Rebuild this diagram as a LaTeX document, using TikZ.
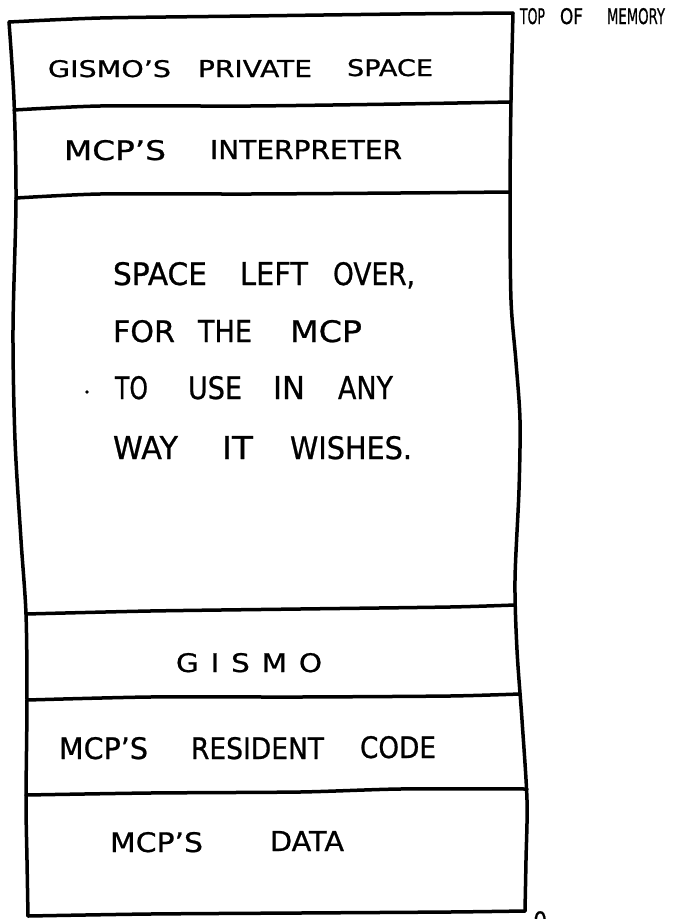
\documentclass[tikz,border=0pt]{standalone}
\usepackage{fontspec}
\usepackage{graphicx}
\setmainfont{DejaVu Sans}[FakeBold=0.8]
\newfontfamily\spacedfont{DejaVu Sans}[LetterSpace=40, FakeBold=0.8]

% one hand-lettered word: name, left x, width, baseline y, cap height, text
\newcommand\hword[6]{\node[word] (#1) at (#2,#4) {\resizebox{#3pt}{#5pt}{#6}};}

\tikzset{
  word/.style={anchor=base west, inner sep=0pt, outer sep=0pt},
  pen/.style={line width=3.5pt, line cap=round, line join=round, black},
}

\begin{document}
\begin{tikzpicture}[x=1pt, y=-1pt]
\useasboundingbox (0,0) rectangle (674,919);
\fill[white] (0,0) rectangle (674,919);

% outer frame of the memory map
\draw[pen] plot[smooth, tension=0.5] coordinates {
  (28,916) (27,860) (26,800) (27,700) (26,614) (21,540) (15,440) (13,330) (16,200) (14,100) (9,22)};
\draw[pen] plot[smooth, tension=0.4] coordinates {
  (9,22) (100,18) (250,16) (400,14) (513,13)};
\draw[pen] plot[smooth, tension=0.5] coordinates {
  (513,13) (511,100) (510,200) (511,300) (516,362) (520,420) (519,490) (515,580) (517,650) (522,720) (527,800) (526,860) (525,911)};
\draw[pen] plot[smooth, tension=0.4] coordinates {
  (525,911) (450,912) (300,913) (150,914) (28,916)};

% partitions
\draw[pen] plot[smooth, tension=0.4] coordinates {(14,110) (100,106) (250,106) (400,104) (511,102)};
\draw[pen] plot[smooth, tension=0.4] coordinates {(16,198) (100,194) (250,194) (400,193) (510,192)};
\draw[pen] plot[smooth, tension=0.4] coordinates {(26,614) (150,611) (300,609) (450,607) (515,605)};
\draw[pen] plot[smooth, tension=0.4] coordinates {(27,700) (150,697) (300,697) (450,696) (520,694)};
\draw[pen] plot[smooth, tension=0.4] coordinates {(26,795) (150,793) (300,792) (400,789) (527,789)};

% GISMO'S PRIVATE SPACE
\hword{a1}{48}{123}{77}{17}{GISMO'S}
\hword{a2}{198}{114}{77}{17}{PRIVATE}
\hword{a3}{347}{86}{76}{17}{SPACE}

% MCP'S INTERPRETER
\hword{b1}{64}{102}{160}{20}{MCP'S}
\hword{b2}{210}{192}{159}{19}{INTERPRETER}

% free space paragraph
\hword{c1}{113}{94}{285}{23}{SPACE}
\hword{c2}{240}{68}{285}{23}{LEFT}
\hword{c3}{333}{82}{285}{23}{OVER,}
\hword{d1}{113}{62}{342}{22}{FOR}
\hword{d2}{198}{54}{342}{22}{THE}
\hword{d3}{290}{72}{342}{22}{MCP}
\hword{e1}{115}{33}{399}{23}{TO}
\hword{e2}{188}{54}{399}{23}{USE}
\hword{e3}{273}{32}{399}{23}{IN}
\hword{e4}{338}{55}{399}{23}{ANY}
\hword{f1}{113}{65}{459}{23}{WAY}
\hword{f2}{222}{31}{459}{23}{IT}
\hword{f3}{290}{122}{459}{23}{WISHES.}
\fill (87,392) circle (1.8);

% GISMO
\hword{g1}{176}{146}{672}{19}{\spacedfont GISMO}

% MCP'S RESIDENT CODE
\hword{h1}{59}{89}{759}{22}{MCP'S}
\hword{h2}{191}{133}{759}{22}{RESIDENT}
\hword{h3}{360}{76}{758}{22}{CODE}

% MCP'S DATA
\hword{k1}{110}{93}{852}{20}{MCP'S}
\hword{k2}{270}{74}{851}{20}{DATA}

% address labels
\hword{t1}{520}{25}{24}{16}{TOP}
\hword{t2}{560}{23}{24}{16}{OF}
\hword{t3}{607}{58}{24}{16}{MEMORY}
\node[anchor=north west, inner sep=0pt] (zero) at (533,911) {\resizebox{14pt}{20pt}{0}};
\end{tikzpicture}
\end{document}
